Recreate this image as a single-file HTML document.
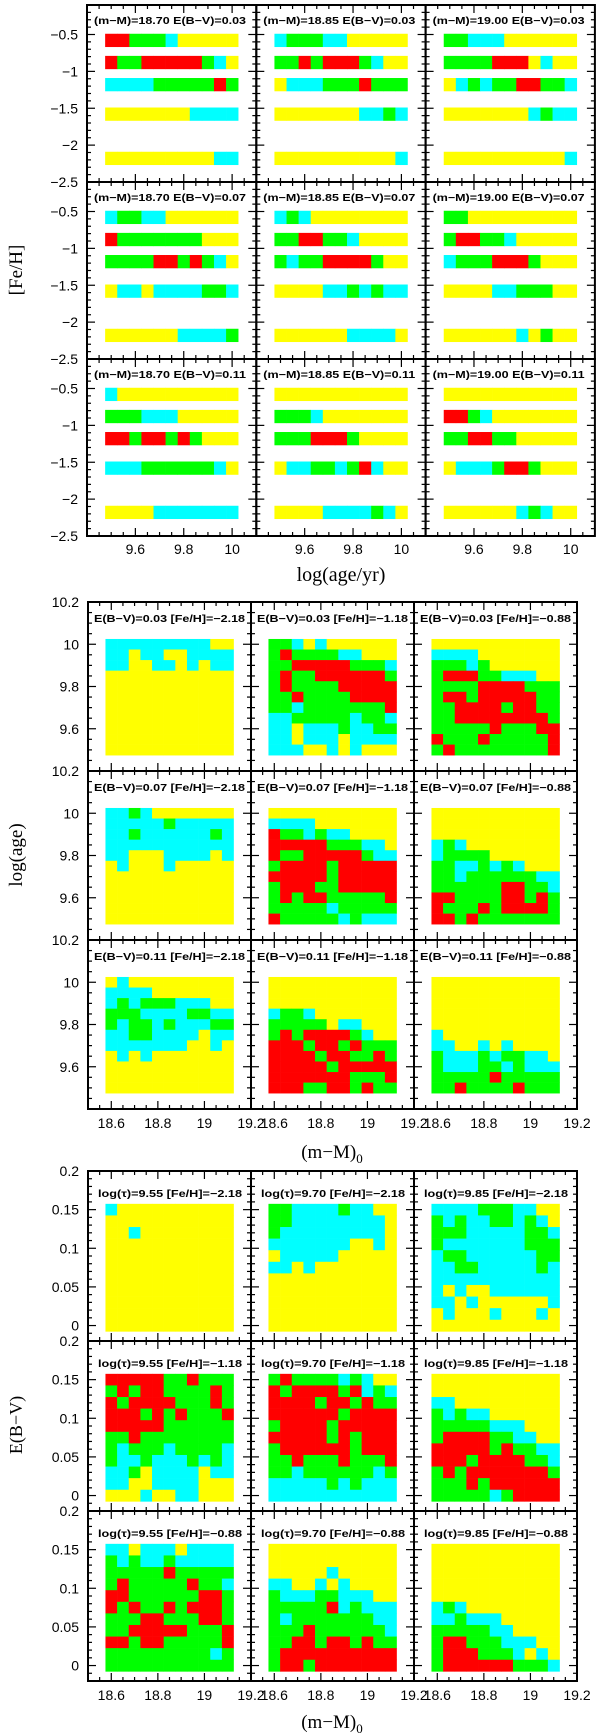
<!DOCTYPE html>
<html><head><meta charset="utf-8"><style>
html,body{margin:0;padding:0;background:#fff;}
svg{display:block;}
text{font-family:"Liberation Sans",sans-serif;fill:#000;}
.ser{font-family:"Liberation Serif",serif;}
</style></head><body>
<svg id="fig" width="600" height="1736" viewBox="0 0 600 1736" xmlns="http://www.w3.org/2000/svg">
<rect x="0" y="0" width="600" height="1736" fill="#fff"/>
<text class="ser" x="0" y="0" font-size="19" text-anchor="middle" transform="translate(22,270) rotate(-90)">[Fe/H]</text>
<text class="ser" x="341" y="581" font-size="20" text-anchor="middle">log(age/yr)</text>
<text class="ser" x="0" y="0" font-size="19" text-anchor="middle" transform="translate(22,855) rotate(-90)">log(age)</text>
<text class="ser" x="332" y="1158" font-size="19" text-anchor="middle">(m−M)<tspan font-size="13" dy="5">0</tspan></text>
<text class="ser" x="0" y="0" font-size="18" text-anchor="middle" transform="translate(22,1425) rotate(-90)">E(B−V)</text>
<text class="ser" x="332" y="1728" font-size="19" text-anchor="middle">(m−M)<tspan font-size="13" dy="5">0</tspan></text>
</svg>
<script>
// ---------- data ----------
const colorMap = {R:'#ff0000', G:'#00ff00', C:'#00ffff', Y:'#ffff00'};
const fehLevels = [-0.58, -0.88, -1.18, -1.58, -2.18];
const ageBins1 = [9.5, 9.55, 9.6, 9.65, 9.7, 9.75, 9.8, 9.85, 9.9, 9.95, 10.0];
const ageBinsDesc = [10.0, 9.95, 9.9, 9.85, 9.8, 9.75, 9.7, 9.65, 9.6, 9.55, 9.5];
const dmBins = [18.6, 18.65, 18.7, 18.75, 18.8, 18.85, 18.9, 18.95, 19.0, 19.05, 19.1];
const ebvBinsDesc = [0.15, 0.135, 0.12, 0.105, 0.09, 0.075, 0.06, 0.045, 0.03, 0.015, 0.0];

const sec1DM = ['18.70', '18.85', '19.00'];
const sec1EBV = ['0.03', '0.07', '0.11'];
const sec2EBV = ['0.03', '0.07', '0.11'];
const sec2FeH = ['-2.18', '-1.18', '-0.88'];
const sec3Tau = ['9.55', '9.70', '9.85'];
const sec3FeH = ['-2.18', '-1.18', '-0.88'];

const sec1Ticks = [-0.5, -1, -1.5, -2, -2.5];
const sec1XTicks = [9.6, 9.8, 10];
const sec2Ticks = [10.2, 10, 9.8, 9.6];
const dmTicks = [18.6, 18.8, 19, 19.2];
const sec3Ticks = [0.2, 0.15, 0.1, 0.05, 0];

// section 1: [row][col] -> bars for fehLevels (cells along ageBins1)
const sec1Data = [
 [["RRGGGCYYYYY","RGGRRRRRGCY","CCCCGGGGGRG","YYYYYYYCCCC","YYYYYYYYYCC"],
  ["CGGGCCYYYYY","GGRGRRRGCYY","YCCCGGGRGGG","YYYYYYYCCGC","YYYYYYYYYYC"],
  ["GGCCCYYYYYY","GGGGRRRYCYY","YCGCGGRRGGC","YYYYYYYCGCC","YYYYYYYYYYC"]],
 [["CGGCCYYYYYY","RGGGGGGGYYY","GGGGRRGRGCY","YCCYCCCCGGC","YYYYYYCCCCG"],
  ["CGCYYYYYYYY","GGRRGGCYYYY","GCGGRRRRGYY","YYYYCCGCGCC","YYYYYYCCCCY"],
  ["GGYYYYYYYYY","GRRGGCYYYYY","CGGGRRRGYYY","YYYYCCGGGYY","YYYYYYCYGYY"]],
 [["CYYYYYYYYYY","GGGCCCYYYYY","RRGRRGRGYYY","CCCGGGGGGCY","YYYYCCCCCCC"],
  ["YYYYYYYYYYY","GGGCYYYYYYY","GGGRRRGYYYY","YCCGGCGRCYY","YYYYCCCCGCY"],
  ["YYYYYYYYYYY","RRGCYYYYYYY","GGRRGGYYYYY","YCCCGRRGYYY","YYYYYYCGCYY"]]
];

// section 2: [row E(B-V)][col FeH] -> grid rows top (age 10.0) to bottom (9.5), columns dmBins
const sec2Data = [
 [["CCCCCCCCCYY","CCYCCYYCCCC","CCYYCCYCYCC","YYYYYYYYYYY","YYYYYYYYYYY","YYYYYYYYYYY","YYYYYYYYYYY","YYYYYYYYYYY","YYYYYYYYYYY","YYYYYYYYYYY","YYYYYYYYYYY"],
  ["GGCYCYYYYYY","GRGGGGCCYYY","GGRRRRRGGGC","GRGGRRRRRRG","GRGGGGRRRRR","GGRGGGGRRRR","GGCGGGGGGGR","CCGGGGGCGGC","CCYCCCGCCGG","CCYCCCYCCCC","CCCYYCYCYYY"],
  ["YYYYYYYYYYY","CCCCYYYYYYY","GGGCGYYYYYY","GRRRGGCCCYY","GGGGRRRRGGG","GRRGRRRRRGG","GGRRRRGRRGG","GGRRRRRRRRG","GGGGGRGGGRR","RGGGRGGGGGR","GRGGGGGGGGR"]],
 [["CCGCYYYYYYY","CCCCCGCCCCC","CCGCCCCCCGC","CCCCCCCCCCC","CCYYYCCCCYC","YCYYYCYYYYY","YYYYYYYYYYY","YYYYYYYYYYY","YYYYYYYYYYY","YYYYYYYYYYY","YYYYYYYYYYY"],
  ["YYYYYYYYYYY","CCCCYYYYYYY","RGGCGCCYYYY","RRRRRGGGCCY","RGGRRRRRGCC","GRRRRGRRRRR","RRRRRGRRRRR","GRRRGGRRRRR","GRGRRGGGGGR","GGGGGCGGGGG","RGGGGGCGCCC"],
  ["YYYYYYYYYYY","YYYYYYYYYYY","YYYYYYYYYYY","CGCYYYYYYYY","CGGGGYYYYYY","GGCCGCGCYYY","GGCGGGGGGCC","GGGGGGRRGGC","RRGGGGRRGRG","RGGGRGRRRRG","RRGRGGGGGGG"]],
 [["YCYYYYYYYYY","CCCCYYYYYYY","CGCGGGCCCYY","GGGCCCCGGCC","GCGGCGCCCGG","CCGGCCCCYCC","CCCCCCCYYCY","YCYCYYYYYYY","YYYYYYYYYYY","YYYYYYYYYYY","YYYYYYYYYYY"],
  ["YYYYYYYYYYY","YYYYYYYYYYY","YYYYYYYYYYY","CGGCYYYYYYY","GGGGGYCCYYY","GRGRRRRGCYY","RRRGRRGRGGG","RRRRGRRGGRG","RRRRRGRRRRR","RRRRRRRGGGR","RRRGGRRGRGG"],
  ["YYYYYYYYYYY","YYYYYYYYYYY","YYYYYYYYYYY","YYYYYYYYYYY","YYYYYYYYYYY","CYYYYYYYYYY","CCYYCYCYYYY","GCCCGCGGCCY","GCCCGGCGCCC","GGGGGRGGGGG","GGRGGGGRGGG"]]
];

// section 3: [row FeH][col tau] -> grid rows top (E(B-V)=0.15) to bottom (0), columns dmBins
const sec3Data = [
 [["CYYYYYYYYYY","YYYYYYYYYYY","YYCYYYYYYYY","YYYYYYYYYYY","YYYYYYYYYYY","YYYYYYYYYYY","YYYYYYYYYYY","YYYYYYYYYYY","YYYYYYYYYYY","YYYYYYYYYYY","YYYYYYYYYYY"],
  ["GGCCCCGCCYY","GGCCCCCCCCY","GCCCCCCCCCY","CCCCCCCYYCY","YCCCCCYYYYY","CCYCYYYYYYY","YYYYYYYYYYY","YYYYYYYYYYY","YYYYYYYYYYY","YYYYYYYYYYY","YYYYYYYYYYY"],
  ["CCCCGGGCCYY","GCGCCGGCGCY","GGGCCCCCGGC","GCCCCCCCGGG","CGGCCCCCCGG","CCGGCCCCCGC","CCCCCCCCCCC","CYCYYCCCCCC","CCYCYYYYYYC","YCYYYCYYYCY","YYYYYYYYYYY"]],
 [["RRRRRGGRGGG","GRGRRGGGGRG","RGRRRRGGGRG","RRRGRGRGGGR","RRRRRGGGGGG","GGRGGGGGGGG","GCGGGCGGGGC","GCCGCCCGCGC","CCGYCCCCYCC","CCYYCCCCYYY","YYYCYYCCYYY"],
  ["GRGGGGCGCYY","RGRRRRGRCGC","RRRRGRRGRGG","RRRRRRGRRRR","GRRRRGRRRRR","RRRRRGRGRRR","GRRRRRRGRRR","GGRGGGRGGGR","GGCGGGGGGCG","CCCCCGCGCCC","CCCCCCCCCCC"],
  ["YYYYYYYYYYY","YYYYYYYYYYY","CCYYYYYYYYY","GCGCCYYYYYY","GGGGGCCCYYY","GRRRRGGCCYY","RRRRRGRGGCC","RRRGRRRRGGC","GRGRRRRRRRG","GGGRGRRRRRR","GGGGGCGRRRR"]],
 [["CCYCCCYCCCC","GCGCCGCCCCC","GGGGGRGGGGG","GRGGGGGRGGC","RRGGGGGGRRG","RGRGGRGRRRG","GGGRRGGGRRG","GGRRRRRGGGR","RRGRRGGGGGR","GGGGGGGGGCG","GGGGGGGGGGG"],
  ["YYYYYYYYYYY","YYYYYYYYYYY","YYYYYCYYYYY","CCYYCYCYYYY","GCCCGGCCCYY","GGGGGRCGCCC","GCGGGGGGGCC","GGGRGGGGGGC","GGRRGRRGRGG","GRRRRRRRRRR","GRRGRRRRRRR"],
  ["YYYYYYYYYYY","YYYYYYYYYYY","YYYYYYYYYYY","YYYYYYYYYYY","YYYYYYYYYYY","CGCYYYYYYYY","CCGCCCYYYYY","GGGGGCCYYYY","GRRGGGCCCYY","GRRRGGGCYCY","GRRRRRRGGGC"]]
];

// ---------- drawing ----------
const svg = document.getElementById('fig');
const NS = 'http://www.w3.org/2000/svg';
function mk(tag, attrs) {
  const e = document.createElementNS(NS, tag);
  for (const k in attrs) e.setAttribute(k, attrs[k]);
  return e;
}
function lin(d0, d1, r0, r1) { return v => r0 + (v - d0) / (d1 - d0) * (r1 - r0); }
function cellCode(s, i) { return (s && s[i]) ? s[i] : 'Y'; }

function drawAxes(g, px, py, w, h, xs, ys, xd, yd, xMinor, xMajor, yMinor, yMajor) {
  const t = mk('g', {stroke: '#000', 'stroke-width': 1.2});
  const nx0 = Math.ceil(xd[0] / xMinor - 1e-6), nx1 = Math.floor(xd[1] / xMinor + 1e-6);
  for (let i = nx0; i <= nx1; i++) {
    const v = i * xMinor, x = xs(v);
    const major = Math.abs(v / xMajor - Math.round(v / xMajor)) < 1e-6;
    const L = major ? 8 : 4;
    t.appendChild(mk('line', {x1: x, x2: x, y1: py + h, y2: py + h - L}));
    t.appendChild(mk('line', {x1: x, x2: x, y1: py, y2: py + L}));
  }
  const ny0 = Math.ceil(yd[0] / yMinor - 1e-6), ny1 = Math.floor(yd[1] / yMinor + 1e-6);
  for (let i = ny0; i <= ny1; i++) {
    const v = i * yMinor, y = ys(v);
    const major = Math.abs(v / yMajor - Math.round(v / yMajor)) < 1e-6;
    const L = major ? 8 : 4;
    t.appendChild(mk('line', {x1: px, x2: px + L, y1: y, y2: y}));
    t.appendChild(mk('line', {x1: px + w, x2: px + w - L, y1: y, y2: y}));
  }
  g.appendChild(t);
  const frame = mk('rect', {x: px, y: py, width: w, height: h, fill: 'none', stroke: '#000', 'stroke-width': 2});
  
  
  g.appendChild(frame);
}

function addLabel(g, x, y, txt, len, name) {
  const t = mk('text', {x: x, y: y, 'font-size': 10, 'font-weight': 'bold', textLength: len, lengthAdjust: 'spacingAndGlyphs'});
  t.textContent = txt;
  
  
  g.appendChild(t);
}

function fmtTick(v) { return String(v).replace('-', '\u2212'); }

// ---- Section 1 ----
(function () {
  const X0 = 87, W = 169.3, Y0 = 5, H = 177;
  const xd = [9.4, 10.1], yd = [-2.5, -0.1];
  for (let r = 0; r < 3; r++) {
    for (let c = 0; c < 3; c++) {
      const px = X0 + c * W, py = Y0 + r * H;
      const xs = lin(xd[0], xd[1], px, px + W), ys = lin(yd[0], yd[1], py + H, py);
      const g = mk('g', {});
      
      
      svg.appendChild(g);
      const bars = sec1Data[r][c];
      fehLevels.forEach((feh, bi) => {
        ageBins1.forEach((age, ai) => {
          const code = cellCode(bars[bi], ai);
          const x1 = xs(age - 0.025), x2 = xs(age + 0.025);
          const y1 = ys(feh + 0.09), y2 = ys(feh - 0.09);
          const rc = mk('rect', {x: x1, y: y1, width: x2 - x1 + 0.3, height: y2 - y1, fill: colorMap[code]});
          
          
          g.appendChild(rc);
        });
      });
      drawAxes(g, px, py, W, H, xs, ys, xd, yd, 0.05, 0.2, 0.1, 0.5);
      addLabel(g, px + 7, py + 19, '(m\u2212M)=' + sec1DM[c] + ' E(B\u2212V)=' + sec1EBV[r], 152, 'panel-label');
      if (c === 0) {
        sec1Ticks.forEach(v => {
          const t = mk('text', {x: 78, y: ys(v) + 5, 'font-size': 14, 'text-anchor': 'end'});
          t.textContent = fmtTick(v);
          
          
          svg.appendChild(t);
        });
      }
      if (r === 2) {
        sec1XTicks.forEach(v => {
          const t = mk('text', {x: xs(v), y: py + H + 18, 'font-size': 14, 'text-anchor': 'middle'});
          t.textContent = String(v);
          
          
          svg.appendChild(t);
        });
      }
    }
  }
})();

// ---- heatmap sections ----
function heatSection(opt) {
  const {X0, W, Y0, H, xd, yd, data, rowsVals, xMinor, xMajor, yMinor, yMajor, yTicks, yHalf, labelFn, prefix, labelDy, labelLen, labelDx} = opt;
  for (let r = 0; r < 3; r++) {
    for (let c = 0; c < 3; c++) {
      const px = X0 + c * W, py = Y0 + r * H;
      const xs = lin(xd[0], xd[1], px, px + W), ys = lin(yd[0], yd[1], py + H, py);
      const g = mk('g', {});
      
      
      svg.appendChild(g);
      const grid = data[r][c];
      rowsVals.forEach((yv, ri) => {
        dmBins.forEach((dm, ci) => {
          const code = cellCode(grid[ri], ci);
          const x1 = xs(dm - 0.025), x2 = xs(dm + 0.025);
          const y1 = ys(yv + yHalf), y2 = ys(yv - yHalf);
          const rc = mk('rect', {x: x1, y: y1, width: x2 - x1 + 0.3, height: y2 - y1 + 0.3, fill: colorMap[code]});
          
          
          g.appendChild(rc);
        });
      });
      drawAxes(g, px, py, W, H, xs, ys, xd, yd, xMinor, xMajor, yMinor, yMajor);
      addLabel(g, px + labelDx, py + labelDy, labelFn(r, c), labelLen, 'panel-label');
      if (c === 0) {
        yTicks.forEach(v => {
          const t = mk('text', {x: 79, y: ys(v) + 5, 'font-size': 14, 'text-anchor': 'end'});
          t.textContent = String(v);
          
          
          svg.appendChild(t);
        });
      }
      if (r === 2) {
        dmTicks.forEach(v => {
          const t = mk('text', {x: xs(v), y: py + H + 19, 'font-size': 14, 'text-anchor': 'middle'});
          t.textContent = String(v);
          
          
          svg.appendChild(t);
        });
      }
    }
  }
}

heatSection({
  X0: 88, W: 163, Y0: 602, H: 169, xd: [18.5, 19.2], yd: [9.4, 10.2],
  data: sec2Data, rowsVals: ageBinsDesc, yHalf: 0.025,
  xMinor: 0.05, xMajor: 0.2, yMinor: 0.05, yMajor: 0.2, yTicks: sec2Ticks,
  labelFn: (r, c) => 'E(B\u2212V)=' + sec2EBV[r] + ' [Fe/H]=\u2212' + sec2FeH[c].slice(1),
  prefix: 'age-dm-heatmap', labelDy: 20, labelLen: 151, labelDx: 6
});

heatSection({
  X0: 88, W: 163, Y0: 1171, H: 170, xd: [18.5, 19.2], yd: [-0.02, 0.2],
  data: sec3Data, rowsVals: ebvBinsDesc, yHalf: 0.0075,
  xMinor: 0.05, xMajor: 0.2, yMinor: 0.01, yMajor: 0.05, yTicks: sec3Ticks,
  labelFn: (r, c) => 'log(\u03c4)=' + sec3Tau[c] + ' [Fe/H]=\u2212' + sec3FeH[r].slice(1),
  prefix: 'ebv-dm-heatmap', labelDy: 26, labelLen: 144, labelDx: 10
});
</script>
</body></html>
